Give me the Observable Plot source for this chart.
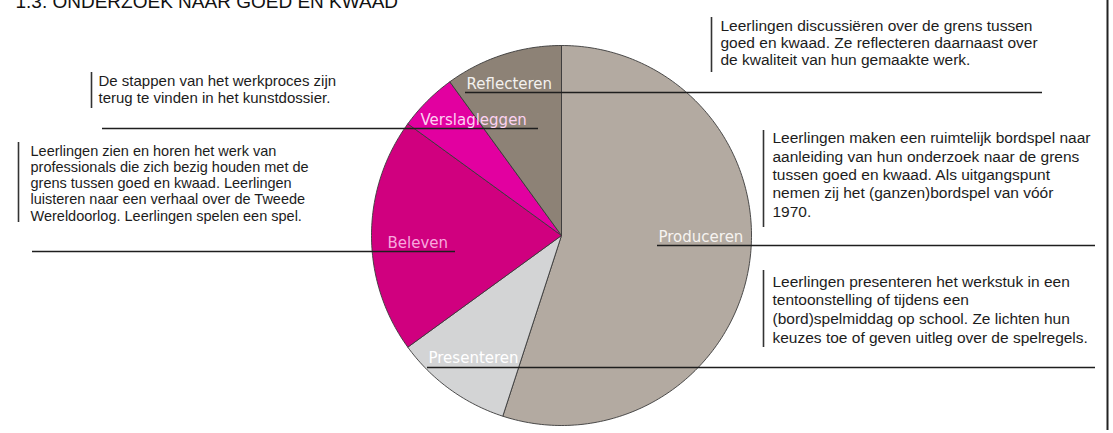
<!DOCTYPE html>
<html>
<head>
<meta charset="utf-8">
<script src="https://cdn.jsdelivr.net/npm/d3@7"></script>
<script src="https://cdn.jsdelivr.net/npm/@observablehq/plot@0.6"></script>
<style>
  html, body { margin: 0; padding: 0; background: #fff; }
  #chart svg { display: block; }
</style>
</head>
<body>
<div id="chart"></div>
<script>
// ---- data ----
const title = "1.3. ONDERZOEK NAAR GOED EN KWAAD";
const categories = ["Produceren", "Presenteren", "Beleven", "Verslagleggen", "Reflecteren"];
const values = [55, 10, 20, 5, 10];
const descriptions = [
  "Leerlingen maken een ruimtelijk bordspel naar\naanleiding van hun onderzoek naar de grens\ntussen goed en kwaad. Als uitgangspunt\nnemen zij het (ganzen)bordspel van vóór\n1970.",
  "Leerlingen presenteren het werkstuk in een\ntentoonstelling of tijdens een\n(bord)spelmiddag op school. Ze lichten hun\nkeuzes toe of geven uitleg over de spelregels.",
  "Leerlingen zien en horen het werk van\nprofessionals die zich bezig houden met de\ngrens tussen goed en kwaad. Leerlingen\nluisteren naar een verhaal over de Tweede\nWereldoorlog. Leerlingen spelen een spel.",
  "De stappen van het werkproces zijn\nterug te vinden in het kunstdossier.",
  "Leerlingen discussiëren over de grens tussen\ngoed en kwaad. Ze reflecteren daarnaast over\nde kwaliteit van hun gemaakte werk."
];

// ---- styles / layout (not data) ----
const sliceColors = ["#b3aaa1", "#d3d4d5", "#d0007f", "#e200a0", "#8d8276"];
const labelColors = ["#f6f3f0", "#ffffff", "#f8a8de", "#fcd2f2", "#f3f1ef"];
const W = 1113, H = 433;
const cx = 561, cy = 235, R = 190;
// label anchor (start x, baseline y) per category
const labelPos = [[658, 241], [428, 362], [387, 247], [420, 124], [466, 88]];
// leader line per category: [x1, x2, y]
const leaderPos = [[657, 1095, 245], [427, 1095, 367], [32, 455, 251], [102, 538, 128], [465, 1042, 92]];
// description block: [textX, firstBaseline, lineSpacing, fontSize, barX, barY1, barY2]
const blockPos = [
  [772, 141, 18.3, 15.5, 763, 130, 227],
  [772, 284, 18.7, 15.5, 763, 270, 347],
  [30, 154, 16.2, 14.5, 18, 142, 222],
  [98, 84, 17, 15, 91, 72, 108],
  [720, 29, 17, 15.5, 711, 17, 72]
];

// ---- derived geometry ----
const arcs = d3.pie().sort(null).startAngle(0).endAngle(2 * Math.PI)(values);
const slicePts = [];
arcs.forEach((a, i) => {
  const n = Math.max(2, Math.ceil((a.endAngle - a.startAngle) / (Math.PI / 180)));
  slicePts.push({cat: categories[i], x: cx, y: cy});
  for (let k = 0; k <= n; k++) {
    const t = a.startAngle + (a.endAngle - a.startAngle) * k / n;
    slicePts.push({cat: categories[i], x: cx + R * Math.sin(t), y: cy - R * Math.cos(t)});
  }
  slicePts.push({cat: categories[i], x: cx, y: cy});
});

const labels = categories.map((c, i) => ({cat: c, x: labelPos[i][0], y: labelPos[i][1], color: labelColors[i]}));
const leaders = categories.map((c, i) => ({cat: c, x1: leaderPos[i][0], x2: leaderPos[i][1], y: leaderPos[i][2]}));
const blocks = categories.map((c, i) => {
  const [tx, b, ls, fs, bx, by1, by2] = blockPos[i];
  return {cat: c, text: descriptions[i], x: tx, y: b - 0.71 * fs, lh: ls / fs, fs, bx, by1, by2};
});

const marks = [];
categories.forEach((c, i) => {
  marks.push(Plot.line(slicePts.filter(d => d.cat === c), {
    x: "x", y: "y", fill: sliceColors[i], stroke: "#3a3a3a", strokeWidth: 0.9, strokeLinejoin: "round"
  }));
});
marks.push(Plot.ruleY(leaders, {y: "y", x1: "x1", x2: "x2", stroke: "#1e1e1e", strokeWidth: 1.6}));
marks.push(Plot.ruleX(blocks, {x: "bx", y1: "by1", y2: "by2", stroke: "#333", strokeWidth: 1.6}));
marks.push(Plot.ruleX([1107], {y1: 0, y2: 430, stroke: "#222", strokeWidth: 2}));
marks.push(Plot.text(labels, {
  x: "x", y: "y", text: "cat", fill: d => d.color, textAnchor: "start", lineAnchor: "bottom",
  fontFamily: "DejaVu Sans", fontSize: 15
}));
blocks.forEach(b => {
  marks.push(Plot.text([b], {
    x: "x", y: "y", text: "text", textAnchor: "start", lineAnchor: "top",
    lineHeight: b.lh, fontSize: b.fs, fill: "#1c1c1c", fontFamily: "Liberation Sans"
  }));
});
marks.push(Plot.text([title], {
  x: 15, y: 7, text: d => d, textAnchor: "start", lineAnchor: "bottom",
  fontSize: 19, fill: "#111", fontFamily: "Liberation Sans"
}));

const chart = Plot.plot({
  width: W, height: H,
  margin: 0,
  x: {domain: [0, W], range: [0, W], axis: null},
  y: {domain: [0, H], range: [0, H], axis: null},
  style: {fontFamily: "Liberation Sans", background: "#fff"},
  marks
});
document.getElementById("chart").appendChild(chart);
</script>
</body>
</html>
